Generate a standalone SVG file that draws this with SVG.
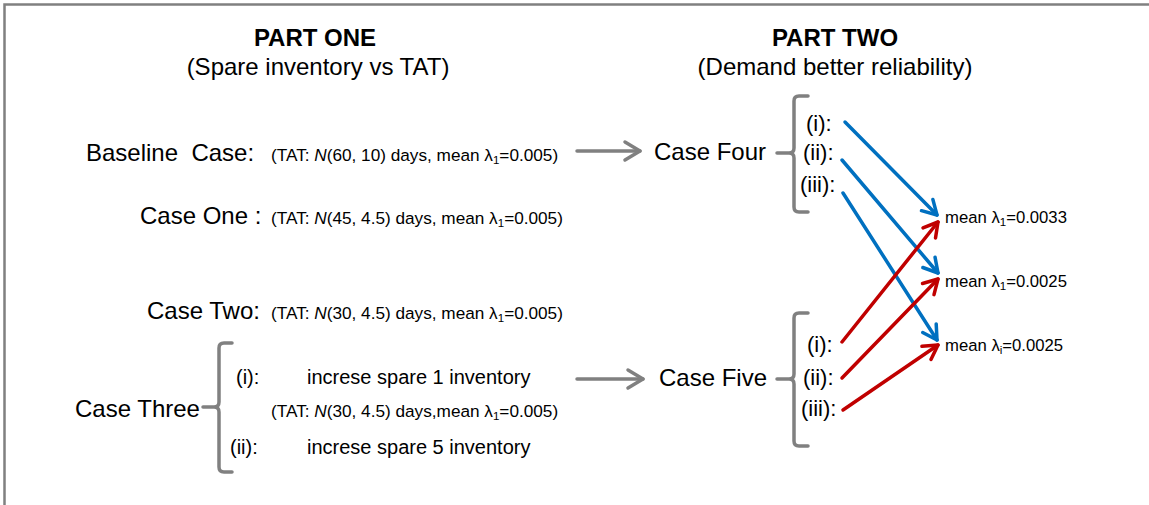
<svg xmlns="http://www.w3.org/2000/svg" width="1149" height="505" viewBox="0 0 1149 505">
<style>
text{font-family:"Liberation Sans",Arial,sans-serif;fill:#000;white-space:pre}
.h{font-size:24px;font-weight:bold}
.s{font-size:24px}
.c{font-size:24px}
.m{font-size:17.2px}
.l{font-size:16.7px}
.r{font-size:20px}
.n{font-size:22px}
.sub{font-size:11.5px}
.br{fill:none;stroke:#808080;stroke-width:3.5;stroke-linecap:round;stroke-linejoin:round}
.ga{fill:none;stroke:#808080;stroke-width:3.5;stroke-linecap:round}
.bl{fill:none;stroke:#0070C0;stroke-width:3.5;stroke-linecap:round}
.rd{fill:none;stroke:#C00000;stroke-width:3.5;stroke-linecap:round}
</style>
<defs>
<marker id="mg" markerUnits="userSpaceOnUse" markerWidth="30" markerHeight="30" refX="0" refY="0" viewBox="-20 -15 30 30" orient="auto" overflow="visible"><path d="M-15,-9 L0,0 L-15,9" fill="none" stroke="#808080" stroke-width="3.5" stroke-linecap="round" stroke-linejoin="round"/></marker>
<marker id="mb" markerUnits="userSpaceOnUse" markerWidth="30" markerHeight="30" refX="0" refY="0" viewBox="-20 -15 30 30" orient="auto" overflow="visible"><path d="M-14,-8 L0,0 L-14,8" fill="none" stroke="#0070C0" stroke-width="3.5" stroke-linecap="round" stroke-linejoin="round"/></marker>
<marker id="mr" markerUnits="userSpaceOnUse" markerWidth="30" markerHeight="30" refX="0" refY="0" viewBox="-20 -15 30 30" orient="auto" overflow="visible"><path d="M-14,-8 L0,0 L-14,8" fill="none" stroke="#C00000" stroke-width="3.5" stroke-linecap="round" stroke-linejoin="round"/></marker>
</defs>
<rect width="1149" height="505" fill="#fff"/>
<path d="M4.5,505 V4.5 H1149" fill="none" stroke="#808080" stroke-width="2.5"/>

<g id="titles">
<text class="h" x="315" y="46" text-anchor="middle">PART ONE</text>
<text class="s" x="318" y="75" text-anchor="middle">(Spare inventory vs TAT)</text>
<text class="h" x="835" y="46" text-anchor="middle">PART TWO</text>
<text class="s" x="835" y="75" text-anchor="middle">(Demand better reliability)</text>
</g>

<g id="baseline">
<text class="c" x="86" y="161">Baseline  Case:</text>
<text class="m" x="271" y="161">(TAT: <tspan font-style="italic">N</tspan>(60, 10) days, mean λ<tspan class="sub" dy="3">1</tspan><tspan dy="-3">=0.005)</tspan></text>
</g>

<g id="case-one">
<text class="c" x="140" y="224">Case One :</text>
<text class="m" x="271" y="224">(TAT: <tspan font-style="italic">N</tspan>(45, 4.5) days, mean λ<tspan class="sub" dy="3">1</tspan><tspan dy="-3">=0.005)</tspan></text>
</g>

<g id="case-two">
<text class="c" x="147" y="319">Case Two:</text>
<text class="m" x="271" y="319">(TAT: <tspan font-style="italic">N</tspan>(30, 4.5) days, mean λ<tspan class="sub" dy="3">1</tspan><tspan dy="-3">=0.005)</tspan></text>
</g>

<g id="case-three">
<text class="c" x="75" y="417">Case Three</text>
<path class="br" d="M232,343 H224 Q219,343 219,348 V402 Q219,407 214,407 H203 M214,407 Q219,407 219,412 V467 Q219,472 224,472 H232"/>
<text class="r" x="236" y="384">(i):</text>
<text class="r" x="307" y="384">increse spare 1 inventory</text>
<text class="m" x="271" y="417">(TAT: <tspan font-style="italic">N</tspan>(30, 4.5) days,mean λ<tspan class="sub" dy="3">1</tspan><tspan dy="-3">=0.005)</tspan></text>
<text class="r" x="230" y="454">(ii):</text>
<text class="r" x="307" y="454">increse spare 5 inventory</text>
</g>

<g id="case-four">
<text class="c" x="654" y="160">Case Four</text>
<path class="br" d="M808,96 H799 Q794,96 794,101 V148 Q794,153 789,153 H777 M789,153 Q794,153 794,158 V207 Q794,212 799,212 H808"/>
<text class="n" x="806" y="131">(i):</text>
<text class="n" x="803" y="160">(ii):</text>
<text class="n" x="800" y="192">(iii):</text>
</g>

<g id="case-five">
<text class="c" x="659" y="386">Case Five</text>
<path class="br" d="M808,313 H799 Q794,313 794,318 V374 Q794,379 789,379 H777 M789,379 Q794,379 794,384 V441 Q794,446 799,446 H808"/>
<text class="n" x="807" y="352">(i):</text>
<text class="n" x="803" y="385">(ii):</text>
<text class="n" x="801" y="416">(iii):</text>
</g>

<g id="results">
<text class="l" x="945" y="223">mean λ<tspan class="sub" dy="3">1</tspan><tspan dy="-3">=0.0033</tspan></text>
<text class="l" x="945" y="287">mean λ<tspan class="sub" dy="3">1</tspan><tspan dy="-3">=0.0025</tspan></text>
<text class="l" x="945" y="351">mean λ<tspan class="sub" dy="3">i</tspan><tspan dy="-3">=0.0025</tspan></text>
</g>

<g id="connectors">
<line class="ga" x1="577" y1="151" x2="640" y2="151" marker-end="url(#mg)"/>
<line class="ga" x1="577" y1="379" x2="643" y2="379" marker-end="url(#mg)"/>
<line class="bl" x1="845" y1="122" x2="937" y2="215" marker-end="url(#mb)"/>
<line class="bl" x1="842" y1="160" x2="938" y2="273" marker-end="url(#mb)"/>
<line class="bl" x1="843" y1="193" x2="937" y2="340" marker-end="url(#mb)"/>
<line class="rd" x1="842" y1="342" x2="938" y2="222" marker-end="url(#mr)"/>
<line class="rd" x1="842" y1="378" x2="938" y2="279" marker-end="url(#mr)"/>
<line class="rd" x1="843" y1="410" x2="938" y2="345" marker-end="url(#mr)"/>
</g>
</svg>
